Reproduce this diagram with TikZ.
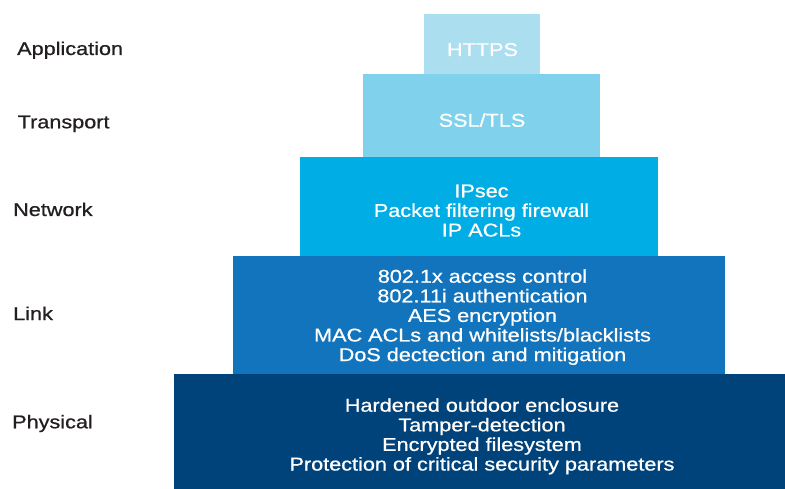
\documentclass[tikz,border=0pt]{standalone}
\usepackage{fontspec}
\setmainfont{Liberation Sans}[FakeStretch=1.17, FakeBold=0.8]
\definecolor{cApp}{HTML}{ABDFF0}
\definecolor{cTra}{HTML}{7FD1EC}
\definecolor{cNet}{HTML}{00ADE4}
\definecolor{cLnk}{HTML}{1274BC}
\definecolor{cPhy}{HTML}{00427A}
\definecolor{cLbl}{HTML}{231F20}
\newcommand\layerfont{\fontsize{18.5}{19.6}\selectfont}
\tikzset{
  boxtxt/.style={anchor=base, inner sep=0pt, text=white, font=\layerfont},
  lbltxt/.style={anchor=base west, inner sep=0pt, text=cLbl, font=\layerfont},
}
\begin{document}
\begin{tikzpicture}[x=1pt,y=-1pt]
\useasboundingbox (0,0) rectangle (785,489);
% layers
\fill[cApp] (424,14) rectangle (540,74.5);
\fill[cTra] (363,74.5) rectangle (600,157);
\fill[cNet] (299.5,157) rectangle (657.5,256);
\fill[cLnk] (233,256) rectangle (725,374);
\fill[cPhy] (174,374) rectangle (785,489);
% layer names
\node[lbltxt] (lapp) at (17,55) {Application};
\node[lbltxt] (ltra) at (17.5,128.3) {Transport};
\node[lbltxt] (lnet) at (13,216) {Network};
\node[lbltxt] (llnk) at (13,320) {Link};
\node[lbltxt] (lphy) at (12,428.3) {Physical};
% contents
\node[boxtxt] (tapp) at (482.5,56) {HTTPS};
\node[boxtxt] (ttra) at (482,126.7) {SSL/TLS};
\node[boxtxt] (tnet) at (481.5,197.3) {\begin{tabular}[t]{@{}c@{}}IPsec\\Packet filtering firewall\\IP ACLs\end{tabular}};
\node[boxtxt] (tlnk) at (482.5,282.7) {\begin{tabular}[t]{@{}c@{}}802.1x access control\\802.11i authentication\\AES encryption\\MAC ACLs and whitelists/blacklists\\DoS dectection and mitigation\end{tabular}};
\node[boxtxt] (tphy) at (482,411.7) {\begin{tabular}[t]{@{}c@{}}Hardened outdoor enclosure\\Tamper-detection\\Encrypted filesystem\\Protection of critical security parameters\end{tabular}};
\end{tikzpicture}
\end{document}
